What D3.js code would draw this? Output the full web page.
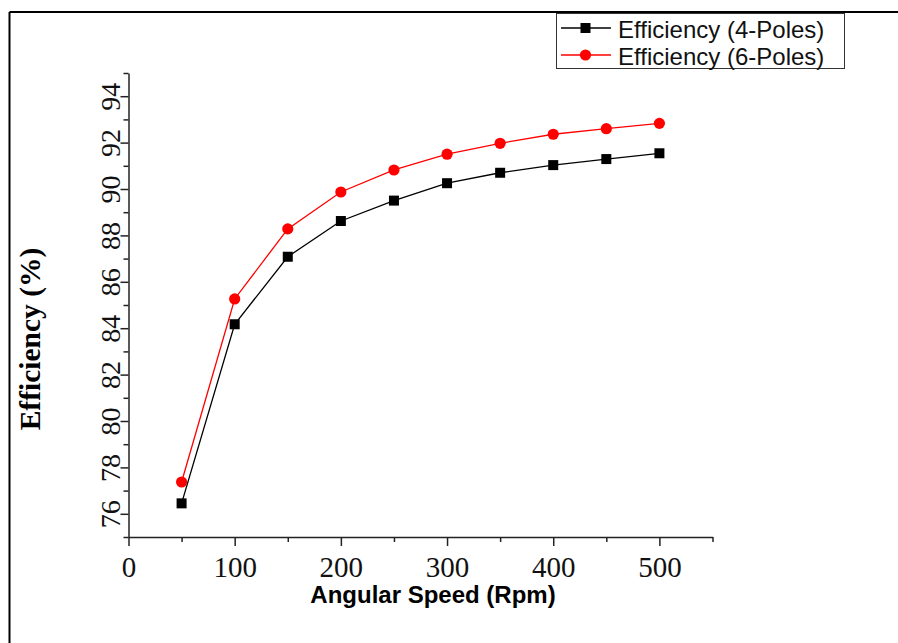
<!DOCTYPE html>
<html>
<head>
<meta charset="utf-8">
<script src="https://cdn.jsdelivr.net/npm/d3@7"></script>
<style>
  body { margin: 0; background: #fff; }
  .axis path, .axis line { stroke: #222; stroke-width: 1.5; }
  .axis text { font-family: "Liberation Serif", "Times New Roman", serif; fill: #111; }
</style>
</head>
<body>
<div id="chart"></div>
<script>
// data
const speeds = [50, 100, 150, 200, 250, 300, 350, 400, 450, 500]
const eff4 = [76.45, 84.17, 87.08, 88.62, 89.50, 90.25, 90.70, 91.03, 91.29, 91.54]
const eff6 = [77.37, 85.26, 88.28, 89.87, 90.82, 91.50, 91.97, 92.36, 92.60, 92.83]
const xTicks = [0, 100, 200, 300, 400, 500]
const xMinor = [50, 150, 250, 350, 450, 550]
const yTicks = [76, 78, 80, 82, 84, 86, 88, 90, 92, 94]
const yMinor = [75, 77, 79, 81, 83, 85, 87, 89, 91, 93, 95]
const seriesNames = ["Efficiency (4-Poles)", "Efficiency (6-Poles)"]

const width = 898
const height = 643
const plot = {left: 128.5, right: 712.5, top: 73, bottom: 537}

const svg = d3.select("#chart").append("svg").attr("width", width).attr("height", height)

// frame (top and left edges only are visible)
svg.append("line").attr("x1", 9.5).attr("x2", width).attr("y1", 12).attr("y2", 12)
    .attr("stroke", "#000").attr("stroke-width", 2)
svg.append("line").attr("x1", 9.5).attr("x2", 9.5).attr("y1", 12).attr("y2", height)
    .attr("stroke", "#000").attr("stroke-width", 2)

const x = d3.scaleLinear().domain([0, 550]).range([plot.left, plot.right])
const y = d3.scaleLinear().domain([75, 95]).range([plot.bottom, plot.top])

// x axis
const xAxisGroup = svg.append("g").attr("class", "axis").attr("transform", `translate(0, ${plot.bottom})`)
xAxisGroup.call(d3.axisBottom(x).tickValues(xTicks).tickSize(9).tickSizeOuter(0).tickFormat(d3.format("d")))
xAxisGroup.selectAll("text").attr("font-size", 29).attr("dy", 0).attr("y", 40)
svg.append("g").attr("class", "axis").attr("transform", `translate(0, ${plot.bottom})`)
    .call(d3.axisBottom(x).tickValues(xMinor).tickSize(5).tickSizeOuter(0).tickFormat(""))
    .select("path").remove()

// y axis
const yAxisGroup = svg.append("g").attr("class", "axis").attr("transform", `translate(${plot.left}, 0)`)
yAxisGroup.call(d3.axisLeft(y).tickValues(yTicks).tickSize(8).tickSizeOuter(0).tickFormat(d3.format("d")))
yAxisGroup.selectAll(".tick text")
    .attr("font-size", 28)
    .attr("x", null).attr("dy", null)
    .attr("text-anchor", "middle")
    .attr("transform", "translate(-8.5, 0) rotate(-90)")
svg.append("g").attr("class", "axis").attr("transform", `translate(${plot.left}, 0)`)
    .call(d3.axisLeft(y).tickValues(yMinor).tickSize(5).tickSizeOuter(0).tickFormat(""))
    .select("path").remove()

// axis titles
svg.append("text")
    .attr("x", 433).attr("y", 603)
    .attr("text-anchor", "middle")
    .attr("font-family", "Liberation Sans, Arial, sans-serif")
    .attr("font-weight", "bold").attr("font-size", 24)
    .text("Angular Speed (Rpm)")
svg.append("text")
    .attr("transform", "translate(40, 339) rotate(-90)")
    .attr("text-anchor", "middle")
    .attr("font-family", "Liberation Serif, Times New Roman, serif")
    .attr("font-weight", "bold").attr("font-size", 29.5)
    .text("Efficiency (%)")

// series
const line = d3.line().x(d => x(d[0])).y(d => y(d[1]))
const data4 = speeds.map((s, i) => [s, eff4[i]])
const data6 = speeds.map((s, i) => [s, eff6[i]])

svg.append("path").datum(data4).attr("d", line)
    .attr("fill", "none").attr("stroke", "#000").attr("stroke-width", 1.3)
svg.append("path").datum(data6).attr("d", line)
    .attr("fill", "none").attr("stroke", "#ff0000").attr("stroke-width", 1.3)

svg.selectAll("rect.sq").data(data4).enter().append("rect")
    .attr("class", "sq")
    .attr("x", d => x(d[0]) - 5).attr("y", d => y(d[1]) - 5)
    .attr("width", 10).attr("height", 10)
    .attr("fill", "#000")
svg.selectAll("circle.dot").data(data6).enter().append("circle")
    .attr("class", "dot")
    .attr("cx", d => x(d[0])).attr("cy", d => y(d[1]))
    .attr("r", 5.6)
    .attr("fill", "#ff0000")

// legend
const legend = svg.append("g")
legend.append("rect").attr("x", 556.5).attr("y", 13.5).attr("width", 288).attr("height", 55)
    .attr("fill", "#fff").attr("stroke", "#333").attr("stroke-width", 1)
const rows = [{name: seriesNames[0], color: "#000", shape: "square"}, {name: seriesNames[1], color: "#ff0000", shape: "circle"}]
rows.forEach((r, i) => {
    const cy = 28 + i * 27
    legend.append("line").attr("x1", 561).attr("x2", 611).attr("y1", cy).attr("y2", cy)
        .attr("stroke", r.color).attr("stroke-width", 1.3)
    if (r.shape === "square") {
        legend.append("rect").attr("x", 580.5).attr("y", cy - 5).attr("width", 10).attr("height", 10).attr("fill", r.color)
    } else {
        legend.append("circle").attr("cx", 585.5).attr("cy", cy).attr("r", 5.6).attr("fill", r.color)
    }
    legend.append("text").attr("x", 618).attr("y", cy + 9.5)
        .attr("font-family", "Liberation Sans, Arial, sans-serif")
        .attr("font-size", 24).attr("fill", "#111")
        .text(r.name)
})
</script>
</body>
</html>
